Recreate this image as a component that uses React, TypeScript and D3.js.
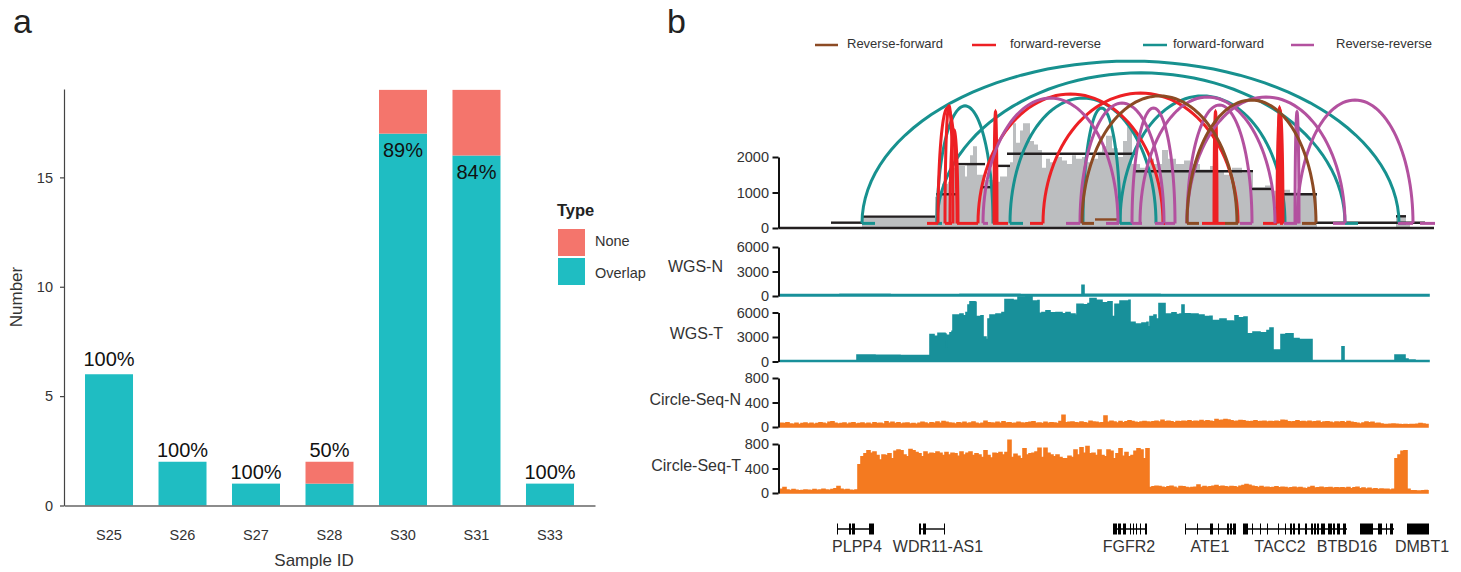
import { useEffect, useRef } from 'react';
import { area, axisLeft, axisBottom, curveStepAfter, format, line, range, scaleBand, scaleLinear, select } from 'd3';

// panel a
const samples = ['S25', 'S26', 'S27', 'S28', 'S30', 'S31', 'S33'];
const overlap = [6, 2, 1, 1, 17, 16, 1];
const none = [0, 0, 0, 1, 2, 3, 0];
const percent = ['100%', '100%', '100%', '50%', '89%', '84%', '100%'];

// panel b: positions are genome bins along the region
const grey = [[82, 320], [120, 300], [155, 880], [158, 1000], [162, 1250], [168, 1300], [172, 1700], [177, 1750], [185, 1450], [187, 1800], [190, 2050], [193, 2300], [197, 1500], [205, 1350], [213, 1500], [217, 1300], [220, 1450], [227, 1750], [230, 1850], [233, 2950], [236, 2400], [240, 2750], [243, 2950], [250, 2450], [254, 2350], [258, 2200], [262, 1700], [266, 1950], [270, 1850], [276, 2000], [282, 1900], [287, 1800], [292, 2050], [296, 1950], [302, 2000], [306, 1850], [312, 1950], [318, 2150], [322, 2300], [326, 2600], [332, 2250], [338, 2000], [343, 2450], [347, 2850], [352, 1800], [360, 1700], [370, 1950], [374, 1800], [382, 2200], [388, 1950], [396, 1800], [404, 1900], [410, 1800], [420, 1650], [430, 1750], [436, 1600], [444, 1500], [452, 1700], [462, 1550], [473, 1150], [485, 1200], [493, 1050], [500, 1080], [510, 1000], [520, 950], [537, 0], [616, 320], [626, 120], [630, 0]];
const cnSegments = [[51, 82, 150], [83, 155, 320], [156, 176, 950], [177, 205, 1800], [203, 213, 1150], [217, 230, 1750], [227, 355, 2090], [353, 473, 1600], [472, 492, 1100], [493, 503, 560], [503, 537, 950], [535, 645, 150], [616, 626, 330]];
const fragment = [[315, 338, 240]];

const forwardForward = [[82, 619, 4700], [157, 565, 4370], [157, 213, 3440], [230, 376, 3660], [303, 340, 3380], [340, 505, 3720]];
const forwardReverse = [[158, 177, 3380], [165, 173, 3440], [170, 178, 2760], [214, 217, 3270], [198, 383, 3775], [263, 458, 3800], [434, 437, 3270], [497, 503, 3320], [498, 501, 3380]];
const reverseReverse = [[203, 338, 3660], [300, 384, 3520], [352, 395, 3380], [360, 495, 3690], [407, 472, 3465], [407, 565, 3690], [515, 519, 3270], [517, 633, 3605]];
const reverseForward = [[302, 457, 3720], [407, 536, 3605]];

const stubsFF = [[82, 95], [157, 162], [230, 243], [340, 352], [565, 578], [619, 626]];
const stubsFR = [[147, 158], [165, 172], [177, 198], [213, 228], [250, 263], [383, 385], [422, 437], [437, 445], [483, 497], [500, 503]];
const stubsRR = [[203, 208], [286, 300], [326, 339], [352, 362], [375, 384], [385, 395], [460, 472], [504, 517], [553, 565], [618, 633], [640, 655]];
const stubsRF = [[302, 314], [407, 419], [445, 458], [522, 536]];

const wgsN = [[0, 190], [60, 210], [110, 180], [180, 200], [240, 190], [302, 1300], [304, 200], [380, 180], [470, 190], [560, 170], [649, 170]];
const wgsT = [[0, 130], [77, 800], [95, 760], [120, 740], [150, 3300], [154, 3100], [158, 3450], [165, 3350], [166, 1800], [167, 3200], [170, 3500], [172, 3700], [173, 5700], [180, 5800], [183, 5600], [186, 6000], [188, 6900], [190, 7300], [195, 7250], [196, 5500], [201, 5600], [203, 3000], [206, 2700], [208, 5200], [210, 5700], [216, 5800], [222, 6000], [225, 7600], [233, 7500], [238, 7900], [246, 7950], [252, 7400], [258, 7450], [259, 5900], [262, 6000], [266, 6200], [270, 5950], [276, 6000], [282, 5850], [286, 6000], [290, 5800], [295, 5650], [297, 7000], [303, 6950], [308, 7100], [310, 7700], [316, 7500], [322, 7200], [328, 7300], [332, 5500], [335, 7000], [340, 7400], [349, 7500], [350, 4800], [355, 4600], [362, 4700], [367, 4800], [368, 4250], [370, 5500], [374, 5700], [376, 5200], [379, 7100], [385, 5800], [392, 5950], [396, 5750], [400, 5800], [402, 6900], [404, 5850], [410, 5800], [418, 5700], [424, 5500], [430, 5550], [432, 5000], [440, 5200], [446, 4950], [453, 4900], [455, 5600], [458, 5350], [464, 5450], [467, 3400], [473, 3600], [480, 3500], [487, 3800], [490, 4100], [493, 1400], [501, 3300], [506, 3400], [513, 2800], [519, 2700], [532, 130], [562, 1800], [564, 130], [615, 800], [625, 300], [628, 180], [635, 130], [649, 130]];

// circle-seq depth, one value every 3 bins
const circleN = [60, 55, 70, 50, 45, 60, 40, 55, 65, 50, 60, 45, 55, 70, 60, 50, 75, 85, 60, 50, 55, 65, 45, 60, 70, 50, 55, 65, 50, 60, 45, 70, 55, 60, 50, 85, 60, 75, 55, 70, 50, 60, 65, 50, 55, 45, 60, 75, 65, 50, 70, 60, 80, 60, 90, 75, 65, 60, 50, 70, 60, 75, 55, 65, 80, 60, 50, 60, 95, 70, 65, 60, 75, 60, 85, 65, 70, 55, 60, 75, 65, 60, 70, 75, 85, 60, 65, 55, 75, 60, 70, 65, 55, 90, 190, 70, 75, 80, 70, 65, 80, 70, 60, 95, 80, 75, 65, 70, 180, 75, 95, 80, 65, 90, 70, 85, 100, 90, 75, 70, 80, 90, 80, 75, 85, 95, 80, 110, 85, 95, 85, 70, 90, 85, 95, 90, 100, 85, 95, 90, 105, 90, 100, 95, 85, 120, 105, 110, 120, 115, 100, 90, 95, 105, 100, 90, 85, 90, 100, 85, 90, 95, 80, 90, 85, 95, 85, 110, 105, 85, 80, 85, 100, 85, 90, 80, 95, 80, 85, 95, 70, 80, 85, 75, 65, 80, 75, 85, 70, 90, 75, 70, 60, 50, 65, 80, 70, 75, 55, 60, 50, 40, 40, 45, 50, 45, 40, 35, 40, 35, 40, 40, 45, 55, 50, 40, 40];
const circleT = [60, 90, 50, 40, 55, 45, 35, 40, 50, 45, 40, 55, 45, 50, 60, 50, 45, 55, 70, 105, 60, 50, 55, 45, 40, 50, 460, 590, 640, 690, 650, 670, 610, 540, 620, 610, 640, 560, 680, 700, 690, 620, 590, 710, 690, 660, 640, 590, 670, 630, 650, 640, 670, 650, 610, 660, 620, 650, 640, 600, 670, 620, 650, 670, 610, 640, 620, 580, 690, 610, 570, 650, 640, 660, 620, 660, 860, 580, 630, 600, 560, 720, 620, 640, 650, 670, 730, 580, 730, 650, 620, 590, 620, 580, 560, 560, 600, 580, 700, 620, 740, 650, 760, 640, 650, 610, 700, 610, 590, 700, 680, 560, 640, 720, 600, 660, 590, 610, 680, 720, 700, 560, 720, 90, 100, 110, 105, 95, 85, 100, 110, 95, 75, 105, 100, 90, 80, 90, 95, 130, 90, 105, 95, 100, 110, 120, 100, 110, 100, 95, 105, 100, 90, 110, 120, 140, 125, 110, 100, 90, 105, 90, 95, 85, 90, 100, 85, 95, 90, 75, 85, 95, 80, 90, 75, 70, 90, 105, 80, 85, 95, 80, 85, 90, 75, 85, 80, 85, 75, 90, 70, 85, 95, 70, 80, 65, 75, 60, 70, 55, 65, 60, 60, 50, 60, 560, 620, 680, 690, 60, 35, 35, 30, 30, 35, 40, 50];

const geneNames = ['PLPP4', 'WDR11-AS1', 'FGFR2', 'ATE1', 'TACC2', 'BTBD16', 'DMBT1'];
const geneLabelAt = [77, 158, 349, 430, 500, 567, 642];
const geneSpans = [[57, 94], [139, 165], [333, 367], [405, 456], [463, 567], [580, 614], [627, 649]];
const geneExons = [
  [[57, 58], [69, 71], [72, 75], [89, 94]],
  [[139, 141], [143, 146], [164, 165]],
  [[333, 337], [338, 341], [343, 346], [350, 351], [353, 354], [356, 357], [360, 361], [365, 367]],
  [[405, 406], [417, 418], [430, 433], [438, 439], [447, 449], [450, 452], [453, 456]],
  [[463, 468], [472, 473], [480, 481], [487, 488], [498, 499], [505, 506], [510, 512], [513, 515], [518, 520], [525, 527], [531, 533], [534, 536], [537, 539], [541, 545], [548, 552], [553, 555], [557, 560], [563, 566]],
  [[580, 584], [584, 593], [598, 602], [606, 607], [610, 613]],
  [[627, 649]],
];

const trackLabels = ['WGS-N', 'WGS-T', 'Circle-Seq-N', 'Circle-Seq-T'];
const legendNames = ['Reverse-forward', 'forward-reverse', 'forward-forward', 'Reverse-reverse'];

const TEAL = '#17918f';
const RED = '#ed2024';
const PURPLE = '#b3519f';
const BROWN = '#8c4b24';
const TRACK_TEAL = '#18909a';
const ORANGE = '#f47a20';
const FONT = '"Liberation Sans", Arial, sans-serif';

const xb = scaleLinear().domain([0, 650]).range([780, 1430]);

function Axis({ scale, ticks, size = 6, padding = 4, fontSize = 14 }) {
  const ref = useRef(null);
  useEffect(() => {
    const g = select(ref.current);
    g.call(axisLeft(scale).tickValues(ticks).tickFormat(format('d')).tickSize(size).tickSizeOuter(0).tickPadding(padding));
    g.selectAll('text').attr('font-size', fontSize).attr('font-family', FONT).attr('fill', '#333');
  }, []);
  return <g ref={ref} />;
}

function Track({ name, nameX, nameY, data, color, y, ticks }) {
  const shape = area()
    .x(d => xb(d[0]))
    .y0(y(0))
    .y1(d => y(d[1]))
    .curve(curveStepAfter);
  return (
    <g>
      <path d={shape(data)} fill={color} stroke={color} strokeWidth={1.6} />
      <g transform="translate(778.5,0)">
        <g className="trk">
          <Axis scale={y} ticks={ticks} size={6} padding={3.5} fontSize={14.5} />
        </g>
      </g>
      <text x={nameX} y={nameY} fontSize={16} fontFamily={FONT} fill="#333" textAnchor="end">{name}</text>
    </g>
  );
}

function Arcs({ arcs, stubs, color, y }) {
  const base = 130;
  return (
    <g fill="none" stroke={color} strokeWidth={3}>
      {arcs.map((a, i) => {
        const cx = (a[0] + a[1]) / 2;
        const rx = (a[1] - a[0]) / 2;
        const path = line()
          .x(t => xb(cx - rx * Math.cos((t * Math.PI) / 180)))
          .y(t => y(base + (a[2] - base) * Math.sin((t * Math.PI) / 180)));
        return <path key={i} d={path(range(0, 181, 3))} />;
      })}
      {stubs.map((s, i) => (
        <line key={i} x1={xb(s[0])} x2={xb(s[1])} y1={y(base)} y2={y(base)} />
      ))}
    </g>
  );
}

export default function App() {
  const axRef = useRef(null);
  const xRef = useRef(null);

  const x = scaleBand().domain(samples).range([64, 595]).paddingInner(0.347).paddingOuter(0.286);
  const y = scaleLinear().domain([0, 19.04]).range([505.5, 89]);

  const yTop = scaleLinear().domain([0, 2000]).range([228, 157]);
  const yWgsN = scaleLinear().domain([0, 6000]).range([296, 247]);
  const yWgsT = scaleLinear().domain([0, 6000]).range([361.5, 312.5]);
  const yCircN = scaleLinear().domain([0, 800]).range([427, 378]);
  const yCircT = scaleLinear().domain([0, 800]).range([493, 444]);

  const greyArea = area()
    .x(d => xb(d[0]))
    .y0(yTop(0))
    .y1(d => yTop(d[1]))
    .curve(curveStepAfter);

  const toSteps = (vals) => vals.map((v, i) => [i * 3, v]);

  useEffect(() => {
    const g = select(axRef.current);
    g.call(axisLeft(y).tickValues([0, 5, 10, 15]).tickSize(4).tickSizeOuter(0).tickPadding(7));
    g.selectAll('text').attr('font-size', 14.5).attr('font-family', FONT).attr('fill', '#333');
    g.selectAll('path,line').attr('stroke', '#444').attr('stroke-width', 1.2);

    const gx = select(xRef.current);
    gx.call(axisBottom(x).tickSize(0).tickPadding(24));
    gx.selectAll('text').attr('font-size', 14.5).attr('font-family', FONT).attr('fill', '#333');
    gx.selectAll('path').attr('stroke', '#666').attr('stroke-width', 1.6);

    select('#panelb').selectAll('.trk path, .trk line, .top path, .top line').attr('stroke', '#111').attr('stroke-width', 2);
  }, []);

  const legendX = [[815, 838, 847], [972, 996, 1010], [1143, 1167, 1173], [1291, 1314, 1336]];
  const legendColors = [BROWN, RED, TEAL, PURPLE];

  return (
    <svg width={1461} height={572} style={{ position: 'absolute', left: 0, top: 0, background: '#fff' }}>
      {/* panel a */}
      <text x={13} y={33} fontSize={34} fontFamily={FONT} fill="#222">a</text>
      {samples.map((s, i) => (
        <g key={s}>
          <rect x={x(s)} width={x.bandwidth()} y={y(overlap[i])} height={y(0) - y(overlap[i])} fill="#1fbdc2" />
          {none[i] > 0 && (
            <rect x={x(s)} width={x.bandwidth()} y={y(overlap[i] + none[i])} height={y(overlap[i]) - y(overlap[i] + none[i])} fill="#f4756c" />
          )}
          <text
            x={x(s) + x.bandwidth() / 2}
            y={overlap[i] > 10 ? y(overlap[i]) + 23 : y(overlap[i] + none[i]) - (overlap[i] > 5 ? 8 : 5)}
            fontSize={20}
            fontFamily={FONT}
            fill="#111"
            textAnchor="middle"
          >
            {percent[i]}
          </text>
        </g>
      ))}
      <g ref={axRef} transform="translate(64,0)" />
      <g ref={xRef} transform="translate(0,505.5)" />
      <text transform="translate(22,297) rotate(-90)" fontSize={17} fontFamily={FONT} fill="#333" textAnchor="middle">Number</text>
      <text x={314} y={566} fontSize={17} fontFamily={FONT} fill="#333" textAnchor="middle">Sample ID</text>
      <text x={557} y={216} fontSize={16.5} fontWeight="bold" fontFamily={FONT} fill="#222">Type</text>
      <rect x={558} y={229} width={27} height={27} fill="#f4756c" />
      <rect x={558} y={258} width={27} height={27} fill="#1fbdc2" />
      <text x={595} y={246} fontSize={14.5} fontFamily={FONT} fill="#333">None</text>
      <text x={595} y={278} fontSize={14.5} fontFamily={FONT} fill="#333">Overlap</text>

      {/* panel b */}
      <g id="panelb">
        <text x={667} y={33} fontSize={34} fontFamily={FONT} fill="#222">b</text>
        {legendNames.map((n, i) => (
          <g key={n}>
            <line x1={legendX[i][0]} x2={legendX[i][1]} y1={45} y2={45} stroke={legendColors[i]} strokeWidth={2.5} />
            <text x={legendX[i][2]} y={48} fontSize={13} fontFamily={FONT} fill="#333">{n}</text>
          </g>
        ))}

        <path d={greyArea(grey)} fill="#bcbec0" />
        {cnSegments.map((s, i) => (
          <line key={i} x1={xb(s[0])} x2={xb(s[1])} y1={yTop(s[2])} y2={yTop(s[2])} stroke="#231f20" strokeWidth={2.4} />
        ))}
        {fragment.map((s, i) => (
          <line key={i} x1={xb(s[0])} x2={xb(s[1])} y1={yTop(s[2])} y2={yTop(s[2])} stroke={BROWN} strokeWidth={2.4} />
        ))}
        <Arcs arcs={forwardForward} stubs={stubsFF} color={TEAL} y={yTop} />
        <Arcs arcs={forwardReverse} stubs={stubsFR} color={RED} y={yTop} />
        <Arcs arcs={reverseReverse} stubs={stubsRR} color={PURPLE} y={yTop} />
        <Arcs arcs={reverseForward} stubs={stubsRF} color={BROWN} y={yTop} />
        <line x1={xb(0) - 1} x2={xb(654)} y1={yTop(0)} y2={yTop(0)} stroke="#231f20" strokeWidth={2.4} />
        <g transform="translate(778.5,0)" className="top">
          <Axis scale={yTop} ticks={[0, 1000, 2000]} size={6} padding={3.5} fontSize={14.5} />
        </g>

        <Track name={trackLabels[0]} nameX={723} nameY={272} data={wgsN} color={TRACK_TEAL} y={yWgsN} ticks={[0, 3000, 6000]} />
        <Track name={trackLabels[1]} nameX={723} nameY={339} data={wgsT} color={TRACK_TEAL} y={yWgsT} ticks={[0, 3000, 6000]} />
        <Track name={trackLabels[2]} nameX={741} nameY={405} data={toSteps(circleN)} color={ORANGE} y={yCircN} ticks={[0, 400, 800]} />
        <Track name={trackLabels[3]} nameX={741} nameY={471} data={toSteps(circleT)} color={ORANGE} y={yCircT} ticks={[0, 400, 800]} />

        {geneNames.map((g, i) => (
          <g key={g}>
            <line x1={xb(geneSpans[i][0])} x2={xb(geneSpans[i][1])} y1={529} y2={529} stroke="#000" strokeWidth={1.4} />
            {geneExons[i].map((e, j) => (
              <rect key={j} x={xb(e[0])} width={xb(e[1]) - xb(e[0])} y={523.5} height={11} fill="#000" />
            ))}
            <text x={xb(geneLabelAt[i])} y={552} fontSize={16} fontFamily={FONT} fill="#333" textAnchor="middle">{g}</text>
          </g>
        ))}
      </g>
    </svg>
  );
}
